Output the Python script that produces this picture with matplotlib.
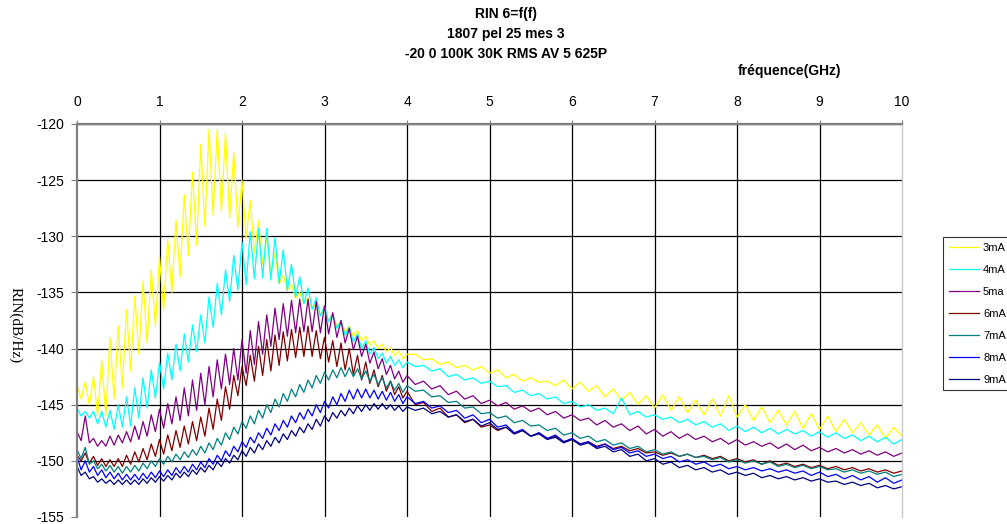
import numpy as np
import matplotlib.pyplot as plt

# frequency grid of the trace (GHz): fine step up to 4 GHz, coarser after
freq = np.concatenate([np.arange(81) * 0.05, 4.1 + np.arange(60) * 0.1])

labels = ["3mA", "4mA", "5ma", "6mA", "7mA", "8mA", "9mA"]
colors = ["#FFFF00", "#00FFFF", "#800080", "#800000", "#008080", "#0000FF", "#000080"]

rin_3mA = [
    -143.3, -144.5, -143.0, -145.0, -142.5, -146.0, -141.0, -146.0, -139.0, -144.5,
    -138.0, -143.5, -136.5, -142.0, -135.3, -140.5, -134.0, -139.5, -133.0, -138.0,
    -131.8, -136.6, -130.3, -135.0, -128.6, -133.6, -126.3, -131.7, -124.3, -130.8,
    -121.8, -129.1, -120.5, -128.1, -120.5, -127.8, -120.8, -128.4, -122.5, -129.2,
    -125.0, -130.2, -126.8, -131.5, -128.6, -132.5, -130.0, -133.3, -131.5, -134.2,
    -133.5, -134.8, -134.3, -135.5, -135.0, -136.0, -135.5, -136.5, -136.0, -137.0,
    -136.5, -137.5, -137.0, -138.0, -137.6, -138.5, -138.0, -138.9, -138.4, -139.3,
    -138.9, -139.7, -139.3, -140.0, -139.6, -140.3, -139.9, -140.6, -140.2, -140.9,
    -140.5,
    -140.5, -141.0, -140.9, -141.4, -141.2, -141.7, -141.5, -141.9, -141.6, -142.2,
    -141.9, -142.6, -142.3, -142.9, -142.6, -143.0, -142.9, -143.3, -142.8, -143.6,
    -143.0, -143.8, -143.3, -144.3, -143.6, -144.6, -143.9, -145.0, -144.2, -145.3,
    -144.1, -145.5, -144.3, -145.7, -144.6, -145.9, -144.5, -146.0, -144.2, -146.1,
    -145.0, -146.4, -145.2, -146.6, -145.5, -146.8, -145.6, -147.1, -145.8, -147.2,
    -146.0, -147.4, -146.3, -147.5, -146.6, -147.7, -146.8, -148.0, -147.0, -147.8,
]

rin_4mA = [
    -145.3, -146.0, -145.6, -146.2, -145.6, -146.7, -145.6, -147.0, -145.5, -147.2,
    -145.0, -147.0, -144.3, -146.9, -143.5, -146.2, -142.6, -145.3, -141.9, -144.4,
    -141.2, -143.6, -140.4, -142.8, -139.6, -142.0, -138.7, -141.2, -137.9, -140.3,
    -137.0, -139.5, -135.4, -138.1, -134.2, -137.0, -133.0, -135.8, -131.7, -134.8,
    -130.5, -134.3, -129.6, -133.8, -129.3, -133.7, -129.3, -133.9, -130.1, -134.2,
    -131.2, -134.8, -132.5, -135.4, -133.6, -136.0, -134.6, -136.5, -135.5, -137.1,
    -136.2, -137.6, -136.9, -138.2, -137.5, -138.8, -138.1, -139.4, -138.7, -140.0,
    -139.3, -140.5, -139.9, -140.9, -140.4, -141.3, -140.7, -141.5, -141.0, -141.7,
    -141.2,
    -141.6, -141.5, -142.0, -141.8, -142.5, -142.3, -142.8, -142.6, -143.1, -142.9,
    -143.4, -143.3, -143.9, -143.7, -144.2, -144.0, -144.5, -144.3, -144.9, -144.7,
    -145.2, -145.0, -145.5, -145.3, -145.8, -144.4, -145.9, -145.6, -146.1, -145.9,
    -146.3, -146.1, -146.6, -146.3, -146.8, -146.5, -147.0, -146.7, -147.3, -146.9,
    -147.4, -147.0, -147.5, -147.1, -147.6, -147.2, -147.6, -147.3, -147.8, -147.4,
    -147.9, -147.5, -148.0, -147.7, -148.2, -147.8, -148.3, -147.9, -148.5, -148.1,
]

rin_5mA = [
    -147.4, -148.2, -146.0, -148.4, -148.0, -148.7, -148.2, -148.7, -147.8, -148.6,
    -147.7, -148.4, -147.4, -148.3, -146.9, -148.1, -146.5, -147.8, -145.9, -147.4,
    -145.4, -147.1, -144.9, -146.7, -144.3, -146.4, -143.5, -146.0, -142.8, -145.5,
    -142.2, -145.0, -141.6, -144.3, -141.0, -143.6, -140.5, -143.2, -140.0, -142.8,
    -139.2, -142.2, -138.4, -141.4, -137.6, -140.5, -137.0, -139.8, -136.4, -139.2,
    -136.0, -138.9, -135.7, -138.6, -135.6, -138.5, -135.6, -138.5, -135.8, -138.6,
    -136.2, -138.7, -136.8, -139.0, -137.5, -139.5, -138.2, -140.1, -138.9, -140.7,
    -139.6, -141.3, -140.3, -141.8, -140.9, -142.3, -141.5, -142.7, -142.0, -143.0,
    -142.4,
    -143.2, -142.9, -143.6, -143.3, -144.1, -143.8, -144.5, -144.2, -144.9, -144.6,
    -145.1, -144.8, -145.4, -145.1, -145.6, -145.3, -145.9, -145.6, -146.2, -145.9,
    -146.4, -146.2, -146.8, -146.4, -147.0, -146.7, -147.3, -146.9, -147.6, -147.2,
    -147.8, -147.4, -148.0, -147.6, -148.1, -147.8, -148.3, -148.0, -148.5, -148.1,
    -148.6, -148.3, -148.7, -148.4, -148.9, -148.5, -149.0, -148.6, -149.1, -148.8,
    -149.2, -148.9, -149.3, -149.0, -149.4, -149.1, -149.5, -149.2, -149.6, -149.3,
]

rin_6mA = [
    -149.5, -150.0, -149.3, -150.2, -149.6, -150.4, -149.8, -150.5, -149.9, -150.5,
    -149.8, -150.5, -149.5, -150.3, -149.2, -150.1, -148.9, -149.9, -148.5, -149.6,
    -148.1, -149.4, -147.7, -149.1, -147.3, -148.8, -146.9, -148.5, -146.5, -148.2,
    -146.1, -147.8, -145.3, -147.2, -144.5, -146.4, -143.4, -145.4, -142.4, -144.2,
    -141.6, -143.3, -140.6, -142.9, -139.8, -142.4, -139.2, -142.0, -138.8, -141.5,
    -138.5, -141.1, -138.3, -140.8, -138.1, -140.7, -138.0, -140.7, -138.4, -140.9,
    -139.0, -141.2, -139.3, -141.6, -139.5, -141.9, -140.0, -142.3, -140.6, -142.8,
    -141.2, -143.1, -141.9, -143.4, -142.4, -143.8, -142.9, -144.1, -143.4, -144.4,
    -143.8,
    -145.0, -144.8, -145.6, -145.3, -146.1, -145.9, -146.6, -146.3, -147.0, -146.8,
    -147.3, -147.0, -147.6, -147.3, -147.8, -147.5, -148.0, -147.8, -148.3, -148.1,
    -148.5, -148.3, -148.7, -148.5, -148.9, -148.7, -149.1, -148.9, -149.3, -149.2,
    -149.5, -149.3, -149.6, -149.4, -149.7, -149.5, -149.8, -149.6, -150.0, -149.8,
    -150.1, -149.9, -150.3, -150.0, -150.4, -150.2, -150.5, -150.3, -150.6, -150.4,
    -150.7, -150.5, -150.8, -150.6, -150.9, -150.7, -151.0, -150.8, -151.1, -150.9,
]

rin_7mA = [
    -149.0, -149.8, -148.8, -150.3, -150.0, -150.7, -150.3, -150.9, -150.4, -151.0,
    -150.5, -151.1, -150.5, -151.0, -150.4, -150.9, -150.2, -150.7, -150.0, -150.5,
    -149.8, -150.3, -149.6, -150.1, -149.4, -149.9, -149.2, -149.7, -149.0, -149.5,
    -148.7, -149.3, -148.4, -149.0, -148.0, -148.6, -147.5, -148.1, -147.0, -147.6,
    -146.5, -147.1, -146.0, -146.7, -145.5, -146.2, -145.0, -145.7, -144.5, -145.2,
    -144.0, -144.7, -143.6, -144.3, -143.2, -143.9, -142.8, -143.5, -142.4, -143.1,
    -142.1, -142.8, -141.9, -142.6, -141.7, -142.5, -141.7, -142.5, -141.8, -142.7,
    -142.0, -142.9, -142.3, -143.2, -142.6, -143.5, -142.9, -143.7, -143.1, -143.9,
    -143.3,
    -143.8, -143.7, -144.3, -144.2, -144.8, -144.7, -145.3, -145.2, -145.8, -145.7,
    -146.2, -146.0, -146.6, -146.4, -146.9, -146.8, -147.3, -147.1, -147.7, -147.5,
    -148.0, -147.8, -148.3, -148.1, -148.6, -148.4, -148.9, -148.7, -149.2, -149.0,
    -149.4, -149.2, -149.6, -149.4, -149.7, -149.6, -149.9, -149.7, -150.1, -149.9,
    -150.2, -150.0, -150.3, -150.1, -150.5, -150.3, -150.6, -150.4, -150.7, -150.5,
    -150.8, -150.7, -151.0, -150.8, -151.1, -150.9, -151.2, -151.0, -151.4, -151.2,
]

rin_8mA = [
    -149.6, -150.8, -150.0, -151.0, -150.5, -151.3, -150.8, -151.5, -151.0, -151.6,
    -151.1, -151.7, -151.2, -151.7, -151.2, -151.7, -151.1, -151.6, -151.0, -151.5,
    -150.9, -151.4, -150.8, -151.3, -150.6, -151.1, -150.5, -151.0, -150.3, -150.8,
    -150.1, -150.6, -149.8, -150.3, -149.5, -150.0, -149.1, -149.6, -148.7, -149.2,
    -148.3, -148.8, -147.9, -148.4, -147.5, -148.0, -147.1, -147.7, -146.7, -147.3,
    -146.4, -147.0, -146.0, -146.6, -145.7, -146.3, -145.4, -146.0, -145.0, -145.7,
    -144.7, -145.3, -144.3, -145.0, -144.0, -144.7, -143.7, -144.5, -143.6, -144.4,
    -143.6, -144.4, -143.7, -144.5, -143.8, -144.6, -143.9, -144.7, -144.1, -144.9,
    -144.3,
    -144.9, -144.7, -145.3, -145.1, -145.7, -145.5, -146.2, -145.9, -146.6, -146.3,
    -147.0, -146.8, -147.5, -147.2, -147.8, -147.5, -148.0, -147.7, -148.3, -148.0,
    -148.5, -148.3, -148.8, -148.5, -149.0, -148.8, -149.3, -149.1, -149.6, -149.4,
    -149.8, -149.6, -150.1, -149.9, -150.3, -150.1, -150.5, -150.3, -150.7, -150.5,
    -150.8, -150.6, -150.9, -150.7, -151.0, -150.8, -151.1, -150.9, -151.3, -151.0,
    -151.4, -151.2, -151.6, -151.3, -151.7, -151.4, -151.9, -151.5, -152.0, -151.7,
]

rin_9mA = [
    -150.5, -151.3, -151.0, -151.6, -151.4, -151.9, -151.6, -152.0, -151.7, -152.1,
    -151.7, -152.1, -151.7, -152.1, -151.7, -152.1, -151.6, -152.0, -151.5, -151.9,
    -151.4, -151.8, -151.3, -151.7, -151.1, -151.5, -151.0, -151.4, -150.8, -151.2,
    -150.6, -151.0, -150.4, -150.8, -150.1, -150.5, -149.8, -150.2, -149.5, -149.9,
    -149.1, -149.6, -148.8, -149.3, -148.5, -149.0, -148.2, -148.7, -147.9, -148.4,
    -147.6, -148.1, -147.3, -147.8, -147.0, -147.5, -146.7, -147.2, -146.3, -146.9,
    -146.0, -146.5, -145.7, -146.2, -145.5, -146.0, -145.3, -145.8, -145.1, -145.6,
    -145.0, -145.5, -144.9, -145.4, -144.9, -145.4, -145.0, -145.5, -145.1, -145.6,
    -145.2,
    -145.5, -145.3, -145.8, -145.6, -146.1, -145.9, -146.5, -146.3, -146.9, -146.6,
    -147.2, -147.0, -147.6, -147.3, -147.8, -147.6, -148.1, -147.9, -148.4, -148.1,
    -148.6, -148.4, -148.9, -148.7, -149.2, -149.0, -149.6, -149.4, -150.0, -149.8,
    -150.3, -150.1, -150.6, -150.4, -150.8, -150.6, -151.0, -150.8, -151.2, -151.0,
    -151.3, -151.1, -151.5, -151.3, -151.6, -151.4, -151.7, -151.5, -151.8, -151.6,
    -151.9, -151.8, -152.1, -151.9, -152.2, -152.0, -152.4, -152.2, -152.5, -152.3,
]

series = [rin_3mA, rin_4mA, rin_5mA, rin_6mA, rin_7mA, rin_8mA, rin_9mA]

xticks = list(range(0, 11))
yticks = [-155, -150, -145, -140, -135, -130, -125, -120]

plt.rcParams["font.family"] = ["Liberation Sans", "DejaVu Sans"]
plt.rcParams["axes.unicode_minus"] = False

fig = plt.figure(figsize=(10.07, 5.24), dpi=100)
ax = fig.add_axes([77 / 1007, 7 / 524, 825 / 1007, 393 / 524])

for values, label, color in zip(series, labels, colors):
    ax.plot(freq, values, color=color, lw=0.9, label=label)

ax.set_xlim(0, 10)
ax.set_ylim(-155, -120)
ax.set_xticks(xticks)
ax.set_yticks(yticks)
ax.xaxis.tick_top()
ax.tick_params(axis="x", length=3, pad=8, labelsize=10, color="#808080")
ax.tick_params(axis="y", length=4, pad=5, labelsize=10, color="#808080")

ax.grid(True, color="black", lw=0.9)
ax.get_ygridlines()[0].set_visible(False)
ax.get_xgridlines()[0].set_visible(False)
ax.get_xgridlines()[-1].set_visible(False)

ax.spines["bottom"].set_visible(False)
ax.spines["left"].set_color("#808080")
ax.spines["left"].set_linewidth(1.6)
ax.spines["top"].set_color("#808080")
ax.spines["top"].set_linewidth(1.6)
ax.spines["right"].set_color("#c8c8c8")
ax.spines["right"].set_linewidth(1.0)

fig.text(506 / 1007, 1 - 14 / 524, "RIN 6=f(f)", ha="center", va="center",
         fontsize=10, fontweight="bold")
fig.text(506 / 1007, 1 - 34 / 524, "1807 pel 25 mes 3", ha="center", va="center",
         fontsize=10, fontweight="bold")
fig.text(506 / 1007, 1 - 54 / 524, "-20 0 100K 30K RMS AV 5 625P", ha="center",
         va="center", fontsize=10, fontweight="bold")
fig.text(789 / 1007, 1 - 71 / 524, "fréquence(GHz)", ha="center", va="center",
         fontsize=10, fontweight="bold")
fig.text(15 / 1007, 1 - 325 / 524, "RIN(dB/Hz)", ha="center", va="center",
         rotation=-90, fontsize=11, family=["Liberation Serif", "DejaVu Serif"])

leg = fig.legend(loc="upper left", bbox_to_anchor=(943 / 1007, 1 - 237 / 524),
                 fontsize=8, frameon=True, fancybox=False, borderaxespad=0,
                 handlelength=2.7, handletextpad=0.4, labelspacing=1.08,
                 borderpad=0.5)
leg.get_frame().set_edgecolor("black")
leg.get_frame().set_linewidth(0.8)

fig.savefig("out.png", dpi=100)
plt.close(fig)
